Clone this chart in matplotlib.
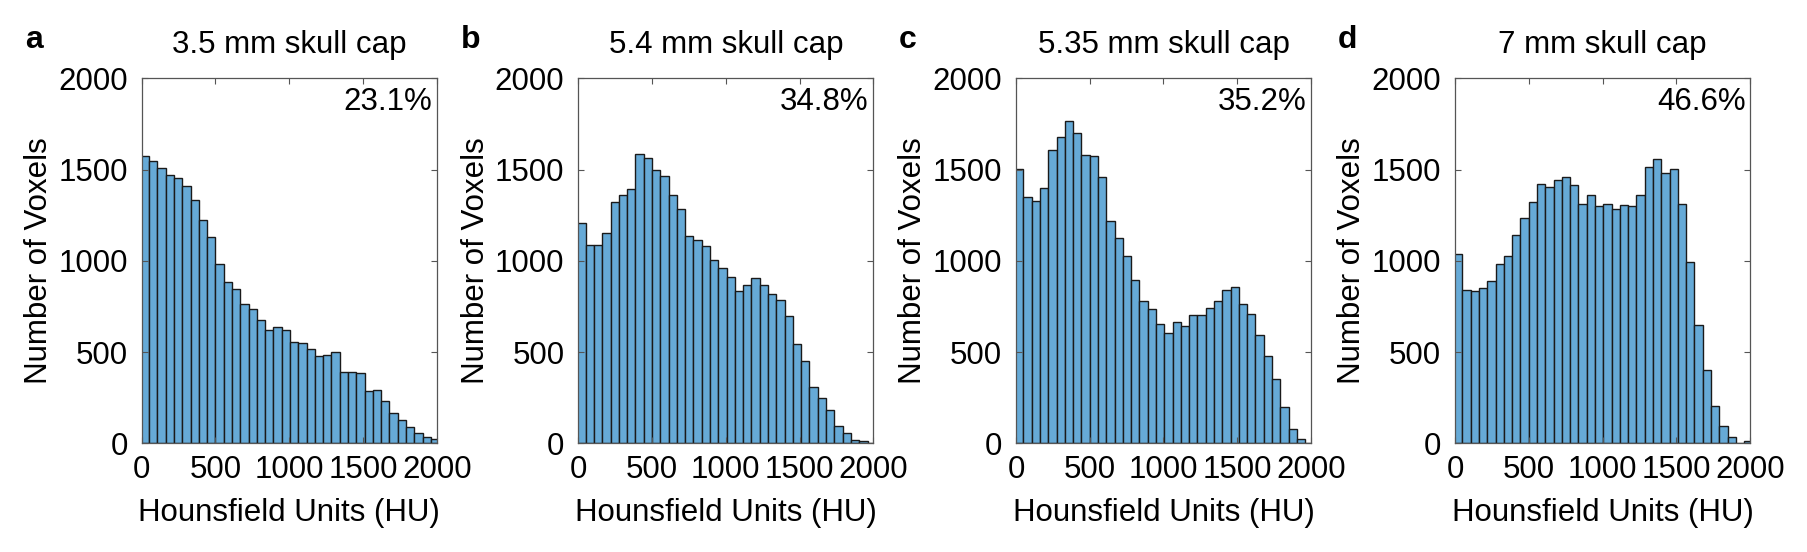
import numpy as np
import matplotlib.pyplot as plt

plt.rcParams["font.family"] = ["Liberation Sans", "DejaVu Sans"]
plt.rcParams["font.size"] = 22.5

# bin edges of the MATLAB histograms (36 bins, slightly wider than 0-2000)
bin_edges = np.linspace(-6, 2017, 37)

titles = ["3.5 mm skull cap", "5.4 mm skull cap", "5.35 mm skull cap", "7 mm skull cap"]
letters = ["a", "b", "c", "d"]
percents = ["23.1%", "34.8%", "35.2%", "46.6%"]

counts_a = [1576, 1549, 1507, 1469, 1455, 1409, 1331, 1224, 1129, 985, 885, 845,
            764, 738, 678, 622, 638, 622, 555, 547, 515, 478, 484, 498,
            391, 391, 385, 285, 293, 233, 167, 125, 87, 58, 35, 25]
counts_b = [1207, 1084, 1084, 1153, 1322, 1362, 1393, 1585, 1562, 1495, 1462, 1362,
            1284, 1138, 1115, 1082, 1005, 960, 913, 836, 865, 904, 865, 820,
            785, 696, 542, 449, 311, 249, 182, 95, 56, 20, 11, 4]
counts_c = [1504, 1351, 1327, 1398, 1605, 1680, 1767, 1700, 1582, 1575, 1458, 1220,
            1127, 1027, 896, 782, 736, 656, 604, 665, 642, 704, 704, 742,
            782, 842, 856, 762, 709, 593, 480, 355, 200, 76, 25, 0]
counts_d = [1036, 842, 835, 851, 891, 984, 1027, 1144, 1235, 1320, 1420, 1405,
            1444, 1458, 1413, 1313, 1358, 1298, 1313, 1282, 1305, 1300, 1358, 1513,
            1558, 1480, 1505, 1313, 996, 649, 402, 202, 95, 33, 0, 11]
all_counts = [counts_a, counts_b, counts_c, counts_d]

# MATLAB default histogram colour with FaceAlpha 0.6 on white
bar_color = (0.4, 0.668, 0.845)

fig = plt.figure(figsize=(18.07, 5.52), dpi=100)
lefts = [141.7, 578.3, 1016.0, 1455.0]
W, H = 1807, 552

for i in range(4):
    ax = fig.add_axes([lefts[i] / W, (H - 443.3) / H, 295 / W, 365 / H])
    ax.bar(bin_edges[:-1], all_counts[i], width=np.diff(bin_edges), align="edge",
           color=bar_color, edgecolor="#1a1a1a", linewidth=1.0)
    ax.set_xlim(0, 2000)
    ax.set_ylim(0, 2000)
    ax.set_xticks([0, 500, 1000, 1500, 2000])
    ax.set_yticks([0, 500, 1000, 1500, 2000])
    ax.tick_params(direction="in", top=True, right=True, length=4, width=0.8,
                   color="#555555")
    ax.tick_params(axis="x", pad=8.5)
    ax.tick_params(axis="y", pad=10)
    for s in ax.spines.values():
        s.set_color("#555555")
        s.set_linewidth(0.9)
    ax.set_xlabel("Hounsfield Units (HU)", labelpad=9)
    ax.set_ylabel("Number of Voxels", labelpad=3)
    ax.set_title(titles[i], pad=18, fontsize=22.5)
    ax.text(0.985, 0.975, percents[i], transform=ax.transAxes, ha="right", va="top")
    fig.text((lefts[i] - 117) / W, 1 - 40 / H, letters[i], fontweight="bold",
             fontsize=23, ha="left", va="center")

fig.savefig("out.png", dpi=100)
